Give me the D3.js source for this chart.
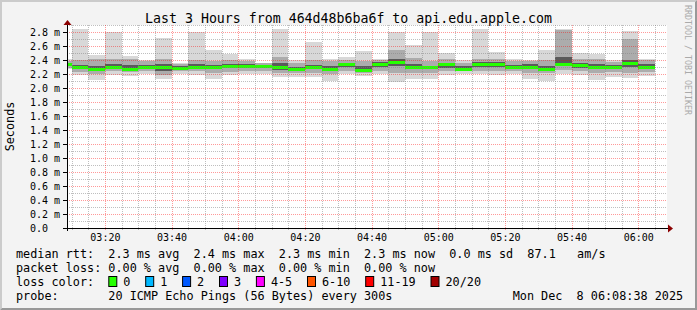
<!DOCTYPE html>
<html>
<head>
<meta charset="utf-8">
<script src="https://cdn.jsdelivr.net/npm/d3@7"></script>
<style>
body { margin: 0; background: #f3f3f3; }
svg { display: block; font-family: "DejaVu Sans Mono", monospace; }
.pre { white-space: pre; }
</style>
</head>
<body>
<div id="chart"></div>
<script>
// start of each 5 minute step (Mon Dec 8 2025)
const times = ["03:05","03:10","03:15","03:20","03:25","03:30","03:35","03:40","03:45","03:50","03:55",
  "04:00","04:05","04:10","04:15","04:20","04:25","04:30","04:35","04:40","04:45","04:50","04:55",
  "05:00","05:05","05:10","05:15","05:20","05:25","05:30","05:35","05:40","05:45","05:50","05:55","06:00"];

// rtt in ms, smoke bands (outer -> inner)
const minRtt = [2.27,2.19,2.12,2.19,2.17,2.20,2.13,2.20,2.19,2.13,2.19,2.20,2.20,2.16,2.16,2.16,2.10,2.20,
  2.17,2.20,2.08,2.13,2.13,2.19,2.20,2.20,2.19,2.20,2.13,2.10,2.20,2.19,2.11,2.16,2.15,2.17];
const lo2 = [2.29,2.23,2.20,2.24,2.23,2.24,2.18,2.24,2.25,2.21,2.23,2.24,2.24,2.21,2.22,2.22,2.20,2.25,
  2.22,2.25,2.22,2.22,2.21,2.24,2.24,2.25,2.24,2.24,2.22,2.21,2.26,2.25,2.22,2.23,2.22,2.23];
const lo3 = [2.31,2.27,2.24,2.28,2.26,2.28,2.25,2.27,2.28,2.27,2.28,2.29,2.28,2.26,2.25,2.27,2.24,2.30,
  2.24,2.30,2.32,2.27,2.27,2.29,2.26,2.30,2.30,2.27,2.27,2.24,2.31,2.29,2.27,2.27,2.30,2.27];
const median = [2.34,2.29,2.26,2.30,2.27,2.30,2.30,2.28,2.30,2.30,2.31,2.31,2.31,2.29,2.26,2.30,2.26,2.33,
  2.25,2.34,2.37,2.30,2.29,2.33,2.27,2.34,2.34,2.29,2.30,2.26,2.34,2.32,2.30,2.30,2.35,2.30];
const hi3 = [2.36,2.33,2.31,2.34,2.33,2.33,2.34,2.32,2.34,2.33,2.34,2.34,2.33,2.36,2.30,2.33,2.31,2.36,
  2.31,2.37,2.41,2.34,2.32,2.36,2.31,2.37,2.37,2.33,2.34,2.31,2.45,2.36,2.34,2.33,2.40,2.34];
const hi2 = [2.39,2.40,2.42,2.41,2.42,2.38,2.42,2.35,2.40,2.38,2.40,2.39,2.36,2.45,2.36,2.40,2.38,2.40,
  2.38,2.40,2.55,2.43,2.38,2.41,2.36,2.42,2.41,2.38,2.38,2.40,2.83,2.42,2.42,2.37,2.70,2.40];
const maxRtt = [2.41,2.85,2.47,2.80,2.46,2.40,2.72,2.36,2.80,2.54,2.49,2.42,2.36,2.84,2.40,2.66,2.42,2.45,
  2.53,2.42,2.80,2.61,2.80,2.50,2.40,2.84,2.51,2.42,2.40,2.54,2.85,2.50,2.48,2.40,2.81,2.42];

const yMajor = [0.0,0.2,0.4,0.6,0.8,1.0,1.2,1.4,1.6,1.8,2.0,2.2,2.4,2.6,2.8];
const yMinor = [0.1,0.3,0.5,0.7,0.9,1.1,1.3,1.5,1.7,1.9,2.1,2.3,2.5,2.7,2.9];
const xMajor = ["03:20","03:40","04:00","04:20","04:40","05:00","05:20","05:40","06:00"];

const lossLabels = ["0","1","2","3","4-5","6-10","11-19","20/20"];
const lossColors = ["#26ff00","#00b8ff","#0059ff","#7e00ff","#ff00ff","#ff5500","#ff0000","#a10000"];

const legendRows = [
  "median rtt:  2.3 ms avg  2.4 ms max  2.3 ms min  2.3 ms now  0.0 ms sd  87.1   am/s",
  "packet loss: 0.00 % avg  0.00 % max  0.00 % min  0.00 % now",
  "loss color:",
  "probe:       20 ICMP Echo Pings (56 Bytes) every 300s"
];

const W = 697, H = 310;
const pLeft = 67, pRight = 667, pTop = 25, pBottom = 228;
const charW = 7.1;

const parse = d3.timeParse("%Y-%m-%d %H:%M:%S");
const at = t => parse("2025-12-08 " + (t.length === 5 ? t + ":00" : t));

const x = d3.scaleTime()
  .domain([at("03:08:38"), at("06:08:38")])
  .range([pLeft, pRight]);
const y = d3.scaleLinear()
  .domain([0, 2.9])
  .range([pBottom, pTop]);

const svg = d3.select("#chart").append("svg")
  .attr("width", W)
  .attr("height", H);

// background + bevel frame
svg.append("rect").attr("width", W).attr("height", H).attr("fill", "#f3f3f3");
svg.append("polygon")
  .attr("points", `0,0 ${W},0 ${W-2},2 2,2 2,${H-2} 0,${H}`)
  .attr("fill", "#cbcbcb");
svg.append("polygon")
  .attr("points", `${W},0 ${W},${H} 0,${H} 2,${H-2} ${W-2},${H-2} ${W-2},2`)
  .attr("fill", "#999999");

// canvas
svg.append("rect")
  .attr("x", pLeft).attr("y", pTop)
  .attr("width", pRight - pLeft).attr("height", pBottom - pTop)
  .attr("fill", "#ffffff");

svg.append("clipPath").attr("id", "plot")
  .append("rect")
  .attr("x", pLeft).attr("y", pTop)
  .attr("width", pRight - pLeft).attr("height", pBottom - pTop);

const rows = times.map((t, i) => ({
  t0: at(t), t1: d3.timeMinute.offset(at(t), 5),
  min: minRtt[i], lo2: lo2[i], lo3: lo3[i], med: median[i], hi3: hi3[i], hi2: hi2[i], max: maxRtt[i]
}));

const plot = svg.append("g").attr("clip-path", "url(#plot)");

// smoke: outer band lightest, inner darkest
const bands = [
  { lo: "min", hi: "max", color: "#d8d8d8" },
  { lo: "lo2", hi: "hi2", color: "#acacac" },
  { lo: "lo3", hi: "hi3", color: "#5a5a5a" }
];
bands.forEach(b => {
  plot.append("g").selectAll("rect")
    .data(rows)
    .enter()
    .append("rect")
    .attr("x", d => x(d.t0))
    .attr("width", d => x(d.t1) - x(d.t0))
    .attr("y", d => y(d[b.hi]))
    .attr("height", d => y(d[b.lo]) - y(d[b.hi]))
    .attr("fill", b.color)
    .attr("shape-rendering", "crispEdges");
});

// grid (drawn over the data like rrdtool does)
const grid = svg.append("g").attr("shape-rendering", "crispEdges");
const minorTimes = x.ticks(d3.timeMinute.every(5));
const majorTimes = xMajor.map(at);
const isMajor = d => majorTimes.some(m => +m === +d);

grid.selectAll(".vmin")
  .data(minorTimes.filter(d => !isMajor(d)))
  .enter().append("line")
  .attr("x1", d => Math.round(x(d)) + 0.5).attr("x2", d => Math.round(x(d)) + 0.5)
  .attr("y1", pTop).attr("y2", pBottom + 2)
  .attr("stroke", "rgba(128,128,128,0.5)")
  .attr("stroke-dasharray", "1,1");
grid.selectAll(".hmin")
  .data(yMinor)
  .enter().append("line")
  .attr("x1", pLeft).attr("x2", pRight)
  .attr("y1", d => Math.round(y(d)) + 0.5).attr("y2", d => Math.round(y(d)) + 0.5)
  .attr("stroke", "rgba(128,128,128,0.5)")
  .attr("stroke-dasharray", "1,1");
grid.selectAll(".vmaj")
  .data(majorTimes)
  .enter().append("line")
  .attr("x1", d => Math.round(x(d)) + 0.5).attr("x2", d => Math.round(x(d)) + 0.5)
  .attr("y1", pTop).attr("y2", pBottom + 3)
  .attr("stroke", "rgba(255,0,0,0.4)")
  .attr("stroke-dasharray", "1,1");
grid.selectAll(".hmaj")
  .data(yMajor.filter(d => d > 0))
  .enter().append("line")
  .attr("x1", pLeft).attr("x2", pRight)
  .attr("y1", d => Math.round(y(d)) + 0.5).attr("y2", d => Math.round(y(d)) + 0.5)
  .attr("stroke", "rgba(255,0,0,0.4)")
  .attr("stroke-dasharray", "1,1");

// median line, coloured by loss (0 loss everywhere)
plot.append("g").selectAll("rect")
  .data(rows)
  .enter()
  .append("rect")
  .attr("x", d => x(d.t0))
  .attr("width", d => x(d.t1) - x(d.t0))
  .attr("y", d => y(d.med) - 1.5)
  .attr("height", 3)
  .attr("fill", lossColors[0])
  .attr("shape-rendering", "crispEdges");

// y axis
const yAxis = svg.append("g")
  .attr("transform", `translate(${pLeft},0)`)
  .call(d3.axisLeft(y)
    .tickValues(yMajor)
    .tickSize(4)
    .tickFormat(d => d === 0 ? "0.0" : d.toFixed(1) + " m"));
yAxis.select(".domain").remove();
yAxis.selectAll("line").attr("stroke", "#000").attr("shape-rendering", "crispEdges");
yAxis.selectAll("text")
  .attr("x", -37)
  .attr("text-anchor", "start")
  .attr("fill", "#000")
  .style("font-size", "10px")
  .style("font-family", "DejaVu Sans Mono");

// x axis labels
const xAxis = svg.append("g")
  .attr("transform", `translate(0,${pBottom})`)
  .call(d3.axisBottom(x)
    .tickValues(majorTimes)
    .tickSize(0)
    .tickPadding(6)
    .tickFormat(d3.timeFormat("%H:%M")));
xAxis.select(".domain").remove();
xAxis.selectAll("text")
  .attr("fill", "#000")
  .style("font-size", "10px")
  .style("font-family", "DejaVu Sans Mono");

// axis lines with arrows
svg.append("line")
  .attr("x1", pLeft - 4).attr("x2", pRight + 1)
  .attr("y1", pBottom + 0.5).attr("y2", pBottom + 0.5)
  .attr("stroke", "#000").attr("shape-rendering", "crispEdges");
svg.append("line")
  .attr("x1", pLeft + 0.5).attr("x2", pLeft + 0.5)
  .attr("y1", pBottom + 3).attr("y2", pTop - 1)
  .attr("stroke", "#000").attr("shape-rendering", "crispEdges");
svg.append("path")
  .attr("d", `M${pRight + 1},${pBottom - 3.5} L${pRight + 6},${pBottom + 0.5} L${pRight + 1},${pBottom + 4.5} Z`)
  .attr("fill", "#8b0000");
svg.append("path")
  .attr("d", `M${pLeft - 3.5},${pTop} L${pLeft + 0.5},${pTop - 5} L${pLeft + 4.5},${pTop} Z`)
  .attr("fill", "#8b0000");

// title
svg.append("text")
  .attr("x", W / 2)
  .attr("y", 23)
  .attr("text-anchor", "middle")
  .style("font-size", "13.25px")
  .text("Last 3 Hours from 464d48b6ba6f to api.edu.apple.com");

// y label
svg.append("text")
  .attr("transform", `translate(14,${(pTop + pBottom) / 2}) rotate(-90)`)
  .attr("text-anchor", "middle")
  .style("font-size", "11.8px")
  .text("Seconds");

// watermark
svg.append("text")
  .attr("transform", "translate(685,5) rotate(90)")
  .attr("fill", "#aaaaaa")
  .style("font-size", "8.3px")
  .text("RRDTOOL / TOBI OETIKER");

// legend
const legend = svg.append("g").style("font-size", "11.8px");
legendRows.forEach((r, i) => {
  legend.append("text")
    .attr("class", "pre")
    .attr("x", 16)
    .attr("y", 258 + i * 14)
    .text(r);
});

let bx = 108.3;
lossLabels.forEach((l, i) => {
  legend.append("rect")
    .attr("x", bx + 0.5).attr("y", 276.5)
    .attr("width", 8).attr("height", 10)
    .attr("fill", lossColors[i])
    .attr("stroke", "#000");
  legend.append("text")
    .attr("x", bx + 15)
    .attr("y", 286)
    .text(l);
  bx = bx + 15 + l.length * charW + 14.8;
});

legend.append("text")
  .attr("class", "pre")
  .attr("x", 512.7)
  .attr("y", 300)
  .text("Mon Dec  8 06:08:38 2025");
</script>
</body>
</html>
